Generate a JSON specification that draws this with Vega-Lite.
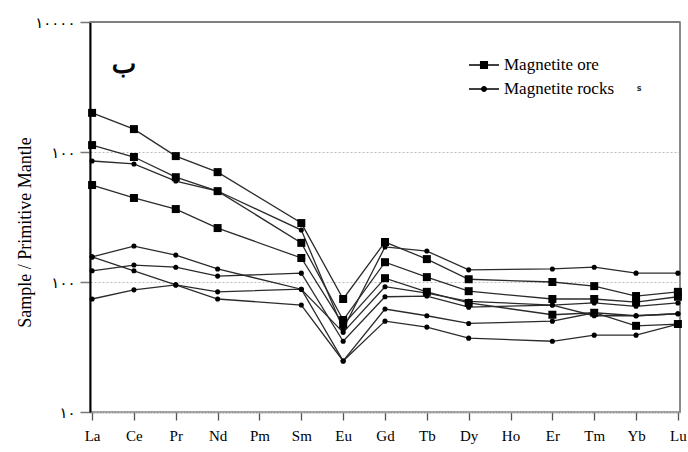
{
  "$schema": "https://vega.github.io/schema/vega-lite/v6.json",
  "width": 590,
  "height": 390,
  "autosize": {"type": "none"},
  "padding": {"left": 90, "top": 22, "right": 8, "bottom": 40},
  "background": "white",
  "config": {
    "view": {"stroke": "#8a8a8a", "strokeWidth": 1.5},
    "font": "Liberation Serif",
    "legend": {"labelFont": "Liberation Serif", "labelFontSize": 17}
  },
  "datasets": {
    "ree": [
      {"s":"O1","t":"Magnetite ore","el":"La","i":0,"v":2000},
      {"s":"O1","t":"Magnetite ore","el":"Ce","i":1,"v":1500},
      {"s":"O1","t":"Magnetite ore","el":"Pr","i":2,"v":930},
      {"s":"O1","t":"Magnetite ore","el":"Nd","i":3,"v":700},
      {"s":"O1","t":"Magnetite ore","el":"Sm","i":5,"v":284},
      {"s":"O1","t":"Magnetite ore","el":"Eu","i":6,"v":74},
      {"s":"O1","t":"Magnetite ore","el":"Gd","i":7,"v":203},
      {"s":"O1","t":"Magnetite ore","el":"Tb","i":8,"v":150},
      {"s":"O1","t":"Magnetite ore","el":"Dy","i":9,"v":105},
      {"s":"O1","t":"Magnetite ore","el":"Er","i":11,"v":100},
      {"s":"O1","t":"Magnetite ore","el":"Tm","i":12,"v":93},
      {"s":"O1","t":"Magnetite ore","el":"Yb","i":13,"v":78},
      {"s":"O1","t":"Magnetite ore","el":"Lu","i":14,"v":84},

      {"s":"O2","t":"Magnetite ore","el":"La","i":0,"v":1130},
      {"s":"O2","t":"Magnetite ore","el":"Ce","i":1,"v":915},
      {"s":"O2","t":"Magnetite ore","el":"Pr","i":2,"v":640},
      {"s":"O2","t":"Magnetite ore","el":"Nd","i":3,"v":500},
      {"s":"O2","t":"Magnetite ore","el":"Sm","i":5,"v":200},
      {"s":"O2","t":"Magnetite ore","el":"Eu","i":6,"v":51},
      {"s":"O2","t":"Magnetite ore","el":"Gd","i":7,"v":142},
      {"s":"O2","t":"Magnetite ore","el":"Tb","i":8,"v":109},
      {"s":"O2","t":"Magnetite ore","el":"Dy","i":9,"v":85},
      {"s":"O2","t":"Magnetite ore","el":"Er","i":11,"v":74},
      {"s":"O2","t":"Magnetite ore","el":"Tm","i":12,"v":74},
      {"s":"O2","t":"Magnetite ore","el":"Yb","i":13,"v":70},
      {"s":"O2","t":"Magnetite ore","el":"Lu","i":14,"v":77},

      {"s":"O3","t":"Magnetite ore","el":"La","i":0,"v":557},
      {"s":"O3","t":"Magnetite ore","el":"Ce","i":1,"v":443},
      {"s":"O3","t":"Magnetite ore","el":"Pr","i":2,"v":364},
      {"s":"O3","t":"Magnetite ore","el":"Nd","i":3,"v":260},
      {"s":"O3","t":"Magnetite ore","el":"Sm","i":5,"v":153},
      {"s":"O3","t":"Magnetite ore","el":"Eu","i":6,"v":47},
      {"s":"O3","t":"Magnetite ore","el":"Gd","i":7,"v":107},
      {"s":"O3","t":"Magnetite ore","el":"Tb","i":8,"v":84},
      {"s":"O3","t":"Magnetite ore","el":"Dy","i":9,"v":69},
      {"s":"O3","t":"Magnetite ore","el":"Er","i":11,"v":56},
      {"s":"O3","t":"Magnetite ore","el":"Tm","i":12,"v":58},
      {"s":"O3","t":"Magnetite ore","el":"Yb","i":13,"v":46},
      {"s":"O3","t":"Magnetite ore","el":"Lu","i":14,"v":47.5},

      {"s":"R1","t":"Magnetite rocks","el":"La","i":0,"v":853},
      {"s":"R1","t":"Magnetite rocks","el":"Ce","i":1,"v":809},
      {"s":"R1","t":"Magnetite rocks","el":"Pr","i":2,"v":598},
      {"s":"R1","t":"Magnetite rocks","el":"Nd","i":3,"v":501},
      {"s":"R1","t":"Magnetite rocks","el":"Sm","i":5,"v":251},
      {"s":"R1","t":"Magnetite rocks","el":"Eu","i":6,"v":43.5},
      {"s":"R1","t":"Magnetite rocks","el":"Gd","i":7,"v":186},
      {"s":"R1","t":"Magnetite rocks","el":"Tb","i":8,"v":173},
      {"s":"R1","t":"Magnetite rocks","el":"Dy","i":9,"v":124},
      {"s":"R1","t":"Magnetite rocks","el":"Er","i":11,"v":126},
      {"s":"R1","t":"Magnetite rocks","el":"Tm","i":12,"v":130},
      {"s":"R1","t":"Magnetite rocks","el":"Yb","i":13,"v":117},
      {"s":"R1","t":"Magnetite rocks","el":"Lu","i":14,"v":117},

      {"s":"R2","t":"Magnetite rocks","el":"La","i":0,"v":156},
      {"s":"R2","t":"Magnetite rocks","el":"Ce","i":1,"v":189},
      {"s":"R2","t":"Magnetite rocks","el":"Pr","i":2,"v":161},
      {"s":"R2","t":"Magnetite rocks","el":"Nd","i":3,"v":126},
      {"s":"R2","t":"Magnetite rocks","el":"Sm","i":5,"v":88},
      {"s":"R2","t":"Magnetite rocks","el":"Eu","i":6,"v":41},
      {"s":"R2","t":"Magnetite rocks","el":"Gd","i":7,"v":92},
      {"s":"R2","t":"Magnetite rocks","el":"Tb","i":8,"v":82},
      {"s":"R2","t":"Magnetite rocks","el":"Dy","i":9,"v":71},
      {"s":"R2","t":"Magnetite rocks","el":"Er","i":11,"v":66.5},
      {"s":"R2","t":"Magnetite rocks","el":"Tm","i":12,"v":69},
      {"s":"R2","t":"Magnetite rocks","el":"Yb","i":13,"v":65},
      {"s":"R2","t":"Magnetite rocks","el":"Lu","i":14,"v":69},

      {"s":"R3","t":"Magnetite rocks","el":"La","i":0,"v":122},
      {"s":"R3","t":"Magnetite rocks","el":"Ce","i":1,"v":135},
      {"s":"R3","t":"Magnetite rocks","el":"Pr","i":2,"v":130},
      {"s":"R3","t":"Magnetite rocks","el":"Nd","i":3,"v":111},
      {"s":"R3","t":"Magnetite rocks","el":"Sm","i":5,"v":117},
      {"s":"R3","t":"Magnetite rocks","el":"Eu","i":6,"v":35},
      {"s":"R3","t":"Magnetite rocks","el":"Gd","i":7,"v":77},
      {"s":"R3","t":"Magnetite rocks","el":"Tb","i":8,"v":78},
      {"s":"R3","t":"Magnetite rocks","el":"Dy","i":9,"v":64},
      {"s":"R3","t":"Magnetite rocks","el":"Er","i":11,"v":66.5},
      {"s":"R3","t":"Magnetite rocks","el":"Tm","i":12,"v":55},
      {"s":"R3","t":"Magnetite rocks","el":"Yb","i":13,"v":55},
      {"s":"R3","t":"Magnetite rocks","el":"Lu","i":14,"v":57},

      {"s":"R5","t":"Magnetite rocks","el":"La","i":0,"v":74},
      {"s":"R5","t":"Magnetite rocks","el":"Ce","i":1,"v":87},
      {"s":"R5","t":"Magnetite rocks","el":"Pr","i":2,"v":95},
      {"s":"R5","t":"Magnetite rocks","el":"Nd","i":3,"v":84},
      {"s":"R5","t":"Magnetite rocks","el":"Sm","i":5,"v":88},
      {"s":"R5","t":"Magnetite rocks","el":"Eu","i":6,"v":24.7},
      {"s":"R5","t":"Magnetite rocks","el":"Gd","i":7,"v":62},
      {"s":"R5","t":"Magnetite rocks","el":"Tb","i":8,"v":55},
      {"s":"R5","t":"Magnetite rocks","el":"Dy","i":9,"v":48},
      {"s":"R5","t":"Magnetite rocks","el":"Er","i":11,"v":50},
      {"s":"R5","t":"Magnetite rocks","el":"Tm","i":12,"v":58},
      {"s":"R5","t":"Magnetite rocks","el":"Yb","i":13,"v":55},
      {"s":"R5","t":"Magnetite rocks","el":"Lu","i":14,"v":57},

      {"s":"R4","t":"Magnetite rocks","el":"La","i":0,"v":156},
      {"s":"R4","t":"Magnetite rocks","el":"Ce","i":1,"v":122},
      {"s":"R4","t":"Magnetite rocks","el":"Pr","i":2,"v":95},
      {"s":"R4","t":"Magnetite rocks","el":"Nd","i":3,"v":74},
      {"s":"R4","t":"Magnetite rocks","el":"Sm","i":5,"v":66.5},
      {"s":"R4","t":"Magnetite rocks","el":"Eu","i":6,"v":24.7},
      {"s":"R4","t":"Magnetite rocks","el":"Gd","i":7,"v":50},
      {"s":"R4","t":"Magnetite rocks","el":"Tb","i":8,"v":45},
      {"s":"R4","t":"Magnetite rocks","el":"Dy","i":9,"v":37},
      {"s":"R4","t":"Magnetite rocks","el":"Er","i":11,"v":35},
      {"s":"R4","t":"Magnetite rocks","el":"Tm","i":12,"v":39},
      {"s":"R4","t":"Magnetite rocks","el":"Yb","i":13,"v":39},
      {"s":"R4","t":"Magnetite rocks","el":"Lu","i":14,"v":47.5}
    ]
  },
  "layer": [
    {
      "data": {"name": "ree"},
      "mark": {"type": "line", "color": "#2b2b2b", "strokeWidth": 1.3},
      "encoding": {
        "x": {
          "field": "el",
          "type": "nominal",
          "scale": {
            "type": "point",
            "domain": ["La","Ce","Pr","Nd","Pm","Sm","Eu","Gd","Tb","Dy","Ho","Er","Tm","Yb","Lu"],
            "padding": 0.05
          },
          "axis": {
            "title": null,
            "labelAngle": 0,
            "labelFont": "Liberation Serif",
            "labelFontSize": 15,
            "labelColor": "black",
            "labelPadding": 8,
            "tickSize": 8,
            "tickColor": "#555",
            "tickWidth": 1.3,
            "domainColor": "#9a9a9a",
            "domainWidth": 2,
            "domainDash": [2, 1],
            "grid": false
          }
        },
        "y": {
          "field": "v",
          "type": "quantitative",
          "scale": {"type": "log", "domain": [10, 10000]},
          "axis": {
            "title": "Sample / Primitive Mantle",
            "titleFont": "Liberation Serif",
            "titleFontSize": 18,
            "titleFontWeight": "normal",
            "titleColor": "black",
            "titleAngle": -90,
            "titleX": -60,
            "titleY": 210,
            "titleAlign": "center",
            "titleBaseline": "alphabetic",
            "values": [10, 100, 1000, 10000],
            "labelExpr": "datum.value == 10000 ? '۱۰۰۰۰' : datum.value == 1000 ? '۱۰۰' : datum.value == 100 ? '۱۰۰' : '۱۰'",
            "labelFont": "DejaVu Sans",
            "labelFontSize": 15,
            "labelColor": "black",
            "labelPadding": 5,
            "tickSize": 10,
            "tickColor": "#777",
            "tickWidth": 1.5,
            "domainColor": "black",
            "domainWidth": 2,
            "grid": true,
            "gridColor": "#bdbdbd",
            "gridDash": [2, 2],
            "gridWidth": 1
          }
        },
        "detail": {"field": "s", "type": "nominal"},
        "order": {"field": "i", "type": "quantitative"}
      }
    },
    {
      "data": {"values": [{"edge": "top"}]},
      "mark": {"type": "rule", "stroke": "#808080", "strokeWidth": 2, "opacity": 1, "strokeOpacity": 1},
      "encoding": {"y": {"datum": 10000, "type": "quantitative", "scale": {"type": "log", "domain": [10, 10000]}}}
    },
    {
      "data": {"values": [{"edge": "right"}]},
      "mark": {"type": "rule", "stroke": "#808080", "strokeWidth": 1.5, "opacity": 1, "strokeOpacity": 1},
      "encoding": {"x": {"value": "width"}}
    },
    {
      "data": {"name": "ree"},
      "transform": [{"filter": "datum.t === 'Magnetite ore'"}],
      "mark": {"type": "point", "shape": "square", "filled": true, "color": "black", "opacity": 1, "size": 64},
      "encoding": {
        "x": {"field": "el", "type": "nominal", "scale": {"type": "point", "domain": ["La","Ce","Pr","Nd","Pm","Sm","Eu","Gd","Tb","Dy","Ho","Er","Tm","Yb","Lu"], "padding": 0.05}},
        "y": {"field": "v", "type": "quantitative", "scale": {"type": "log", "domain": [10, 10000]}}
      }
    },
    {
      "data": {"name": "ree"},
      "transform": [{"filter": "datum.t === 'Magnetite rocks'"}],
      "mark": {"type": "point", "shape": "circle", "filled": true, "color": "black", "opacity": 1, "size": 26},
      "encoding": {
        "x": {"field": "el", "type": "nominal", "scale": {"type": "point", "domain": ["La","Ce","Pr","Nd","Pm","Sm","Eu","Gd","Tb","Dy","Ho","Er","Tm","Yb","Lu"], "padding": 0.05}},
        "y": {"field": "v", "type": "quantitative", "scale": {"type": "log", "domain": [10, 10000]}}
      }
    },
    {
      "data": {"name": "ree"},
      "mark": {"type": "point", "filled": true, "color": "black", "opacity": 0, "size": 900},
      "encoding": {
        "x": {"field": "el", "type": "nominal", "scale": {"type": "point", "domain": ["La","Ce","Pr","Nd","Pm","Sm","Eu","Gd","Tb","Dy","Ho","Er","Tm","Yb","Lu"], "padding": 0.05}},
        "y": {"field": "v", "type": "quantitative", "scale": {"type": "log", "domain": [10, 10000]}},
        "shape": {
          "field": "t",
          "type": "nominal",
          "scale": {
            "domain": ["Magnetite ore", "Magnetite rocks"],
            "range": [
              "M-1,-0.045L1,-0.045L1,0.045L-1,0.045ZM-0.27,-0.27L0.27,-0.27L0.27,0.27L-0.27,0.27Z",
              "M-1,-0.045L1,-0.045L1,0.045L-1,0.045ZM-0.2,0A0.2,0.2,0,1,1,0.2,0A0.2,0.2,0,1,1,-0.2,0Z"
            ]
          },
          "legend": {
            "title": null,
            "orient": "none",
            "legendX": 378,
            "legendY": 27,
            "labelFont": "Liberation Serif",
            "labelFontSize": 17,
            "labelColor": "black",
            "labelOffset": 4,
            "symbolSize": 900,
            "symbolOpacity": 1,
            "symbolFillColor": "black",
            "rowPadding": 0,
            "padding": 0
          }
        }
      }
    },
    {
      "data": {"values": [{"el": "Ce", "v": 4700, "label": "ب"}]},
      "mark": {"type": "text", "font": "DejaVu Sans", "fontSize": 26, "fontWeight": "normal", "color": "black", "stroke": "black", "strokeWidth": 0.8, "dx": -10},
      "encoding": {
        "x": {"field": "el", "type": "nominal", "scale": {"type": "point", "domain": ["La","Ce","Pr","Nd","Pm","Sm","Eu","Gd","Tb","Dy","Ho","Er","Tm","Yb","Lu"], "padding": 0.05}},
        "y": {"field": "v", "type": "quantitative", "scale": {"type": "log", "domain": [10, 10000]}},
        "text": {"field": "label", "type": "nominal"}
      }
    },
    {
      "data": {"values": [{"el": "Yb", "v": 3050, "label": "s"}]},
      "mark": {"type": "text", "font": "DejaVu Sans", "fontSize": 8, "fontWeight": "bold", "color": "#333", "dx": 3},
      "encoding": {
        "x": {"field": "el", "type": "nominal", "scale": {"type": "point", "domain": ["La","Ce","Pr","Nd","Pm","Sm","Eu","Gd","Tb","Dy","Ho","Er","Tm","Yb","Lu"], "padding": 0.05}},
        "y": {"field": "v", "type": "quantitative", "scale": {"type": "log", "domain": [10, 10000]}},
        "text": {"field": "label", "type": "nominal"}
      }
    }
  ]
}
